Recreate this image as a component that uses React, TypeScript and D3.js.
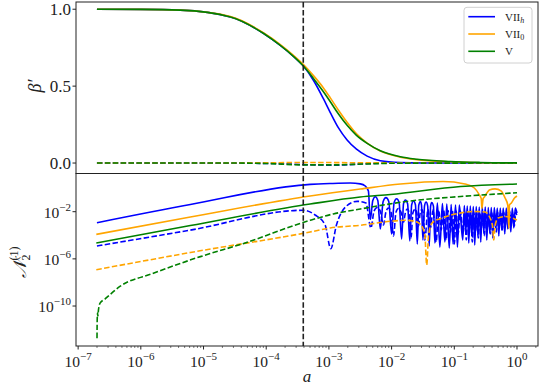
import React from "react";
import * as d3 from "d3";

// every point is [log10 a, value] (top panel) or [log10 a, log10 N] (bottom panel)
type Pt = [number, number];

const seriesNames = ["VII", "VII", "V"];
const seriesSubs = ["h", "0", ""];
const seriesColors = ["#0000ff", "#ffa500", "#008000"];

const xTickExps = [-7, -6, -5, -4, -3, -2, -1, 0];
const yTopTicks = [0, 0.5, 1.0];
const yBotTickExps = [-10, -6, -2];
const aMarker = 3.9e-4;

// beta' (top panel), solid
const betaSolidVIIh: Pt[] = [
  [-6.7, 1.0], [-6.0, 0.999], [-5.37, 0.994], [-4.57, 0.95], [-4.04, 0.842], [-3.78, 0.766],
  [-3.57, 0.695], [-3.41, 0.632], [-3.25, 0.54], [-3.09, 0.42], [-2.98, 0.33], [-2.85, 0.23],
  [-2.71, 0.15], [-2.56, 0.09], [-2.39, 0.045], [-2.18, 0.015], [-1.86, 0.003], [-1.5, 0], [0, 0],
];
const betaSolidVII0: Pt[] = [
  [-6.7, 1.0], [-6.0, 0.999], [-5.37, 0.994], [-4.57, 0.952], [-4.04, 0.846], [-3.78, 0.772],
  [-3.57, 0.702], [-3.41, 0.642], [-3.25, 0.57], [-3.09, 0.49], [-2.98, 0.425], [-2.85, 0.345],
  [-2.71, 0.265], [-2.56, 0.19], [-2.39, 0.13], [-2.18, 0.078], [-1.86, 0.038], [-1.6, 0.022],
  [-1.06, 0.008], [-0.59, 0.002], [0, 0],
];
const betaSolidV: Pt[] = [
  [-6.7, 1.0], [-6.0, 0.999], [-5.37, 0.994], [-4.57, 0.95], [-4.04, 0.842], [-3.78, 0.766],
  [-3.57, 0.695], [-3.41, 0.632], [-3.25, 0.552], [-3.09, 0.465], [-2.98, 0.4], [-2.85, 0.32],
  [-2.71, 0.245], [-2.56, 0.18], [-2.39, 0.128], [-2.18, 0.08], [-1.86, 0.041], [-1.6, 0.025],
  [-1.06, 0.01], [-0.59, 0.004], [0, 0.001],
];
// beta' (top panel), dashed
const betaDashVIIh: Pt[] = [
  [-6.7, 0], [-4.0, -0.002], [-3.4, -0.01], [-2.9, -0.014], [-2.4, -0.004], [-2.0, 0], [0, 0],
];
const betaDashVII0: Pt[] = [
  [-6.7, 0], [-4.0, 0.001], [-3.4, 0.004], [-2.9, 0.003], [-2.3, 0.001], [0, 0],
];
const betaDashV: Pt[] = [
  [-6.7, 0], [-4.5, 0], [-4.0, -0.003], [-3.4, -0.012], [-2.9, -0.012], [-2.4, -0.006],
  [-1.9, -0.001], [0, 0],
];

// N_2^(1) (bottom panel), solid
const nSolidVIIh: Pt[] = [
  [-6.7, -2.93], [-5.21, -1.39], [-3.3, 0.32], [-2.98, 0.39], [-2.66, 0.43], [-2.5, 0.36],
  [-2.42, 0.18], [-2.37, -0.25], [-2.34, -2.66],
  [-2.3, -1.05], [-2.26, -0.73], [-2.22, -1.05], [-2.18, -3.47],
  [-2.135, -1.13], [-2.09, -0.81], [-2.045, -1.13], [-2.0, -3.89],
  [-1.96, -1.22], [-1.92, -0.9], [-1.88, -1.22], [-1.84, -4.31],
  [-1.81, -1.33], [-1.78, -1.01], [-1.745, -1.33], [-1.71, -4.48],
  [-1.68, -1.41], [-1.65, -1.09], [-1.62, -1.41], [-1.59, -4.74],
  [-1.567, -1.45], [-1.54, -1.14], [-1.523, -1.45], [-1.5, -4.4],
  [-1.475, -1.5], [-1.45, -1.18], [-1.425, -1.5], [-1.4, -4.91],
  [-1.378, -1.53], [-1.36, -1.22], [-1.333, -1.53], [-1.31, -4.65],
  [-1.27, -1.26], [-1.23, -5.0], [-1.19, -1.31], [-1.15, -4.57], [-1.12, -1.35],
  [-1.08, -5.08], [-1.05, -1.39], [-1.02, -4.74], [-0.98, -1.43], [-0.95, -5.0], [-0.92, -1.43],
  [-0.865, -4.4], [-0.84, -1.47], [-0.817, -3.72], [-0.793, -1.52], [-0.769, -4.65], [-0.745, -1.52],
  [-0.721, -4.06], [-0.697, -1.56], [-0.674, -4.82], [-0.65, -1.56], [-0.626, -3.89], [-0.602, -1.6],
  [-0.578, -4.57], [-0.554, -1.6], [-0.53, -3.55], [-0.506, -1.6], [-0.482, -4.4], [-0.458, -1.64],
  [-0.434, -3.8], [-0.41, -1.64], [-0.386, -4.23], [-0.362, -1.64], [-0.338, -3.38], [-0.314, -1.69],
  [-0.29, -4.06], [-0.267, -1.69], [-0.243, -3.55], [-0.219, -1.69], [-0.195, -3.89], [-0.171, -1.69],
  [-0.147, -3.47], [-0.123, -1.69], [-0.099, -3.72], [-0.075, -1.69], [-0.051, -3.38], [-0.027, -1.69],
  [0, -2.11],
];
const nSolidVII0: Pt[] = [
  [-6.71, -3.92], [-5.21, -2.45], [-3.3, -0.67], [-2.5, -0.08], [-1.86, 0.35], [-1.18, 0.56],
  [-0.83, 0.35], [-0.68, 0.01], [-0.6, -0.58], [-0.57, -0.89], [-0.56, -1.73], [-0.54, -0.89],
  [-0.52, -0.75], [-0.44, -0.16], [-0.35, -0.06], [-0.25, -0.25], [-0.19, -0.84], [-0.147, -1.43],
  [-0.13, -3.42], [-0.12, -1.43], [-0.09, -1.26], [-0.04, -0.84], [0, -0.67],
];
const nSolidV: Pt[] = [
  [-6.71, -4.65], [-5.21, -3.17], [-3.3, -1.35], [-2.5, -0.75], [-2.02, -0.54], [-0.9, 0.14],
  [0, 0.35],
];
// N_2^(1) (bottom panel), dashed
const nDashVIIh: Pt[] = [
  [-6.7, -4.91], [-5.21, -3.56], [-3.41, -1.88], [-3.22, -2.28], [-3.06, -3.13], [-2.97, -5.14],
  [-2.88, -3.13], [-2.72, -1.52], [-2.55, -1.12], [-2.41, -1.26], [-2.33, -3.38],
  [-2.28, -1.95], [-2.23, -1.64], [-2.18, -1.95], [-2.13, -3.13],
  [-2.09, -2.0], [-2.05, -1.69], [-2.01, -2.0], [-1.97, -4.06],
  [-1.93, -2.04], [-1.89, -1.73], [-1.85, -2.04], [-1.81, -2.87],
  [-1.78, -2.08], [-1.75, -1.77], [-1.72, -2.08], [-1.69, -4.23],
  [-1.66, -2.08], [-1.62, -1.77], [-1.6, -2.08], [-1.57, -3.21],
  [-1.545, -2.12], [-1.52, -1.81], [-1.495, -2.12], [-1.47, -4.4],
  [-1.42, -1.81], [-1.38, -3.38], [-1.34, -1.86], [-1.29, -4.57], [-1.25, -1.86], [-1.21, -3.55],
  [-1.17, -1.86], [-1.13, -4.4], [-1.1, -1.9], [-1.06, -3.72], [-1.03, -1.9], [-1.0, -4.74],
  [-0.97, -1.94], [-0.94, -3.89], [-0.905, -1.94], [-0.857, -3.8], [-0.833, -1.98], [-0.809, -4.4],
  [-0.785, -1.98], [-0.761, -3.55], [-0.737, -2.02], [-0.713, -4.57], [-0.689, -2.02], [-0.665, -3.72],
  [-0.642, -2.06], [-0.618, -4.23], [-0.594, -2.06], [-0.57, -3.47], [-0.546, -2.06], [-0.522, -4.06],
  [-0.498, -2.1], [-0.474, -3.38], [-0.45, -2.1], [-0.426, -3.89], [-0.402, -2.1], [-0.378, -3.3],
  [-0.354, -2.1], [-0.33, -3.72], [-0.306, -2.1], [-0.282, -3.21], [-0.259, -2.1], [-0.235, -3.55],
  [-0.211, -2.06], [-0.187, -3.13], [-0.163, -2.06], [-0.139, -3.38], [-0.115, -2.02], [-0.091, -3.04],
  [-0.067, -2.02], [-0.043, -3.21], [-0.019, -2.02], [0, -2.5],
];
const nDashVII0: Pt[] = [
  [-6.71, -6.92], [-5.21, -5.46], [-3.3, -3.72], [-2.98, -3.38], [-2.5, -3.15], [-1.97, -2.79],
  [-1.78, -2.73], [-1.62, -2.83], [-1.53, -3.13], [-1.47, -3.97], [-1.44, -6.52], [-1.41, -3.97],
  [-1.35, -2.93], [-1.18, -2.51], [-0.9, -2.11], [-0.67, -1.98], [-0.51, -2.03], [-0.43, -2.53],
  [-0.39, -3.21], [-0.37, -4.4], [-0.35, -3.21], [-0.3, -2.53], [-0.19, -2.41], [0, -2.7],
];
const nDashV: Pt[] = [
  [-6.699, -12.73], [-6.696, -11.2], [-6.69, -10.6], [-6.685, -10.85], [-6.675, -10.3],
  [-6.65, -9.76], [-6.57, -9.4], [-6.34, -8.36], [-5.8, -7.22], [-5.05, -5.81], [-4.37, -4.71],
  [-3.3, -2.73], [-2.93, -2.19], [-2.5, -1.77], [-1.7, -1.09], [-0.9, -0.71], [0, -0.39],
];

const betaSolid = [betaSolidVIIh, betaSolidVII0, betaSolidV];
const betaDash = [betaDashVIIh, betaDashVII0, betaDashV];
const nSolid = [nSolidVIIh, nSolidVII0, nSolidV];
const nDash = [nDashVIIh, nDashVII0, nDashV];

const W = 540, H = 388;
const L = 76, R = 538, T1 = 2, B1 = 173.5, B2 = 346;
const serif = "'Liberation Serif', 'DejaVu Serif', serif";
const dash = "5.5,2.4";

export default function App() {
  const x = d3.scaleLog().domain([10 ** -7.034, 10 ** 0.335]).range([L, R]);
  const yTop = d3.scaleLinear().domain([-0.068, 1.047]).range([B1, T1]);
  const yBot = d3.scaleLog().domain([10 ** -13.39, 10 ** 1.24]).range([B2, B1]);

  const lineTop = d3.line<Pt>()
    .x((d) => x(10 ** d[0]))
    .y((d) => yTop(d[1]))
    .curve(d3.curveMonotoneX);
  const lineBot = d3.line<Pt>()
    .x((d) => x(10 ** d[0]))
    .y((d) => yBot(10 ** d[1]))
    .curve(d3.curveMonotoneX);

  const minor: number[] = [];
  for (let e = -8; e <= 0; e++) {
    for (let k = 2; k <= 9; k++) {
      const v = k * 10 ** e;
      if (v >= x.domain()[0] && v <= x.domain()[1]) minor.push(v);
    }
  }

  const xm = x(aMarker);

  return (
    <svg width={W} height={H} style={{ position: "absolute", left: 0, top: 0, background: "#fff" }}>
      <defs>
        <clipPath id="clipTop"><rect x={L} y={T1} width={R - L} height={B1 - T1} /></clipPath>
        <clipPath id="clipBot"><rect x={L} y={B1} width={R - L} height={B2 - B1} /></clipPath>
      </defs>

      {/* top panel curves */}
      <g clipPath="url(#clipTop)" fill="none" strokeWidth={1.6}>
        {seriesColors.map((c, i) => (
          <g key={i}>
            <path d={lineTop(betaSolid[i]) || ""} stroke={c} />
            <path d={lineTop(betaDash[i]) || ""} stroke={c} strokeDasharray={dash} />
          </g>
        ))}
      </g>

      {/* bottom panel curves */}
      <g clipPath="url(#clipBot)" fill="none" strokeWidth={1.6} strokeLinejoin="round">
        {seriesColors.map((c, i) => (
          <g key={i}>
            <path d={lineBot(nSolid[i]) || ""} stroke={c} />
            <path d={lineBot(nDash[i]) || ""} stroke={c} strokeDasharray={dash} />
          </g>
        ))}
      </g>

      {/* marker line */}
      <line x1={xm} x2={xm} y1={T1} y2={B2} stroke="#222" strokeWidth={1.6} strokeDasharray="5.5,2.4" />

      {/* frames */}
      <rect x={L} y={T1} width={R - L} height={B1 - T1} fill="none" stroke="#222" strokeWidth={1} />
      <rect x={L} y={B1} width={R - L} height={B2 - B1} fill="none" stroke="#222" strokeWidth={1} />

      {/* top y axis */}
      {yTopTicks.map((t) => (
        <g key={t}>
          <line x1={L - 3.5} x2={L} y1={yTop(t)} y2={yTop(t)} stroke="#222" />
          <text x={L - 5} y={yTop(t) + 6} textAnchor="end" fontFamily={serif} fontSize={17} fill="#222">
            {t.toFixed(1)}
          </text>
        </g>
      ))}

      {/* bottom y axis */}
      {yBotTickExps.map((e) => (
        <g key={e}>
          <line x1={L - 3.5} x2={L} y1={yBot(10 ** e)} y2={yBot(10 ** e)} stroke="#222" />
          <text x={L - 5} y={yBot(10 ** e) + 6} textAnchor="end" fontFamily={serif} fontSize={15.5} fill="#222">
            10<tspan dy={-7} fontSize={11}>{"\u2212" + Math.abs(e)}</tspan>
          </text>
        </g>
      ))}

      {/* x axis */}
      {minor.map((v) => (
        <line key={v} x1={x(v)} x2={x(v)} y1={B2} y2={B2 + 2} stroke="#222" strokeWidth={0.6} />
      ))}
      {xTickExps.map((e) => (
        <g key={e}>
          <line x1={x(10 ** e)} x2={x(10 ** e)} y1={B2} y2={B2 + 3.5} stroke="#222" />
          <text x={x(10 ** e)} y={366.5} textAnchor="middle" fontFamily={serif} fontSize={15.5} fill="#222">
            10<tspan dy={-7} fontSize={11}>{e < 0 ? "\u2212" + Math.abs(e) : "0"}</tspan>
          </text>
        </g>
      ))}

      {/* axis labels */}
      <text x={307} y={382} textAnchor="middle" fontFamily={serif} fontStyle="italic" fontSize={17} fill="#222">a</text>
      <text transform="translate(41,86) rotate(-90)" textAnchor="middle" fontFamily={serif} fontStyle="italic" fontSize={18} fill="#222">
        {"\u03b2\u2032"}
      </text>
      <text transform="translate(26,262) rotate(-90)" textAnchor="middle" fontFamily={serif} fontStyle="italic" fontSize={18} fill="#222">
        {"\ud835\udca9"}
        <tspan dy={4} fontSize={12} fontStyle="normal">2</tspan>
        <tspan dx={-6} dy={-12} fontSize={12} fontStyle="normal">(1)</tspan>
      </text>

      {/* legend */}
      <rect x={464} y={7.3} width={68} height={55.7} rx={3} fill="#fff" fillOpacity={0.8} stroke="#d0d0d0" strokeWidth={1} />
      {seriesColors.map((c, i) => {
        const yy = 16.7 + i * 17.3;
        return (
          <g key={i}>
            <line x1={468.3} x2={495} y1={yy} y2={yy} stroke={c} strokeWidth={1.6} />
            <text x={505} y={yy + 3.8} fontFamily={serif} fontSize={11} fill="#222">
              {seriesNames[i]}
              {seriesSubs[i] && (
                <tspan dy={2.5} fontSize={8} fontStyle={seriesSubs[i] === "h" ? "italic" : "normal"}>
                  {seriesSubs[i]}
                </tspan>
              )}
            </text>
          </g>
        );
      })}
    </svg>
  );
}
